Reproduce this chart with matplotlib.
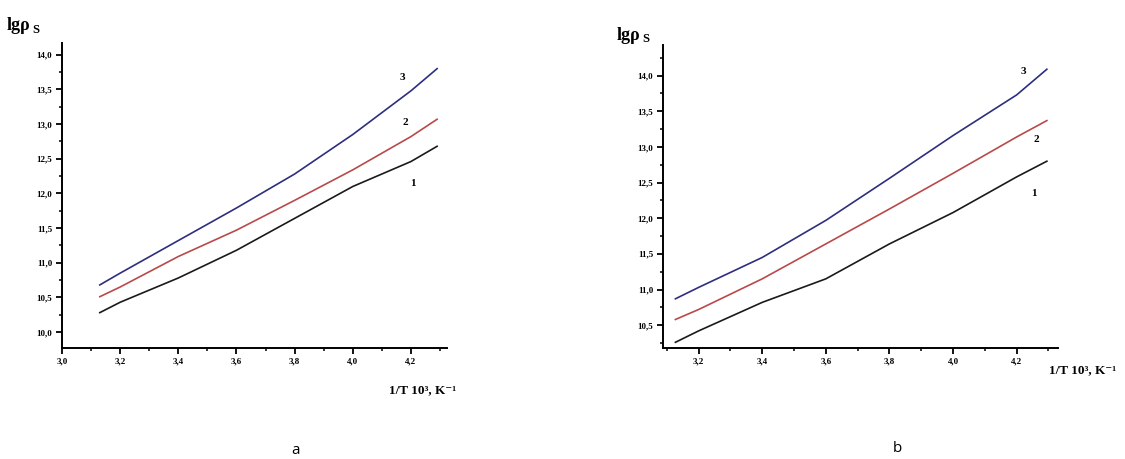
import matplotlib
matplotlib.use("Agg")
import matplotlib.pyplot as plt
from matplotlib.ticker import MultipleLocator, FuncFormatter

# ---- data ----
x_a = [3.13, 3.2, 3.4, 3.6, 3.8, 4.0, 4.2, 4.29]
a_curve1 = [10.28, 10.43, 10.78, 11.18, 11.64, 12.10, 12.46, 12.68]
a_curve2 = [10.51, 10.65, 11.09, 11.47, 11.90, 12.34, 12.82, 13.07]
a_curve3 = [10.68, 10.85, 11.32, 11.79, 12.28, 12.85, 13.48, 13.80]

x_b = [3.127, 3.2, 3.4, 3.6, 3.8, 4.0, 4.2, 4.295]
b_curve1 = [10.26, 10.42, 10.82, 11.15, 11.64, 12.08, 12.58, 12.80]
b_curve2 = [10.58, 10.72, 11.15, 11.64, 12.13, 12.63, 13.14, 13.37]
b_curve3 = [10.87, 11.03, 11.45, 11.97, 12.56, 13.16, 13.73, 14.09]

curve_labels = ["1", "2", "3"]
panel_labels = ["a", "b"]
y_label = "lgρ"
y_label_sub = "S"
x_label = "1/T 10³, K⁻¹"

colors = ["#1a1a1a", "#b84a4a", "#2e2e7e"]
serif = ["Liberation Serif", "DejaVu Serif"]

W, H = 1125, 459
fig = plt.figure(figsize=(W / 100, H / 100), dpi=100)


def px_axes(x0, y0, x1, y1):
    return fig.add_axes([x0 / W, 1 - y1 / H, (x1 - x0) / W, (y1 - y0) / H])


comma = FuncFormatter(lambda v, p: f"{v:.1f}".replace(".", ","))


def style(ax, xlim, ylim):
    ax.set_xlim(*xlim)
    ax.set_ylim(*ylim)
    for s in ["top", "right"]:
        ax.spines[s].set_visible(False)
    for s in ["left", "bottom"]:
        ax.spines[s].set_linewidth(1.4)
    ax.xaxis.set_major_locator(MultipleLocator(0.2))
    ax.xaxis.set_minor_locator(MultipleLocator(0.1))
    ax.yaxis.set_major_locator(MultipleLocator(0.5))
    ax.yaxis.set_minor_locator(MultipleLocator(0.25))
    ax.xaxis.set_major_formatter(comma)
    ax.yaxis.set_major_formatter(comma)
    ax.tick_params(which="major", direction="out", length=4, width=1.3, pad=3)
    ax.tick_params(which="minor", direction="out", length=2.5, width=1.1)
    for lab in ax.get_xticklabels() + ax.get_yticklabels():
        lab.set_fontfamily(serif)
        lab.set_fontweight("bold")
        lab.set_fontsize(6.5)


# panel a
ax1 = px_axes(62, 43, 447, 348)
style(ax1, (3.0, 4.324), (9.77, 14.17))
for ys, c in zip([a_curve1, a_curve2, a_curve3], colors):
    ax1.plot(x_a, ys, color=c, lw=1.2)

# panel b
ax2 = px_axes(663, 45, 1058, 348)
style(ax2, (3.088, 4.33), (10.18, 14.43))
for ys, c in zip([b_curve1, b_curve2, b_curve3], colors):
    ax2.plot(x_b, ys, color=c, lw=1.2)

# curve number labels (pixel positions)
num_pos_a = [(413, 183), (405, 123), (402, 77)]
num_pos_b = [(1034, 193), (1036, 139), (1023, 71)]
for (px, py), t in zip(num_pos_a, curve_labels):
    fig.text(px / W, 1 - py / H, t, ha="center", va="center",
             family=serif, weight="bold", fontsize=8)
for (px, py), t in zip(num_pos_b, curve_labels):
    fig.text(px / W, 1 - py / H, t, ha="center", va="center",
             family=serif, weight="bold", fontsize=8)

# y labels
for (px, py) in [(7, 26), (617, 35)]:
    fig.text(px / W, 1 - py / H, y_label, ha="left", va="center",
             family=serif, weight="bold", fontsize=13)
    fig.text((px + 25) / W, 1 - (py + 4) / H, y_label_sub, ha="left",
             va="center", family=serif, weight="bold", fontsize=9)

# x labels
fig.text(423 / W, 1 - 390 / H, x_label, ha="center", va="center",
         family=serif, weight="bold", fontsize=9.5)
fig.text(1083 / W, 1 - 370 / H, x_label, ha="center", va="center",
         family=serif, weight="bold", fontsize=9.5)

# panel letters
fig.text(295 / W, 1 - 451 / H, panel_labels[0], ha="center", va="center",
         family=["Open Sans", "DejaVu Sans"], fontsize=11)
fig.text(897 / W, 1 - 449 / H, panel_labels[1], ha="center", va="center",
         family=["Open Sans", "DejaVu Sans"], fontsize=11)

fig.savefig("out.png", dpi=100, facecolor="white")
